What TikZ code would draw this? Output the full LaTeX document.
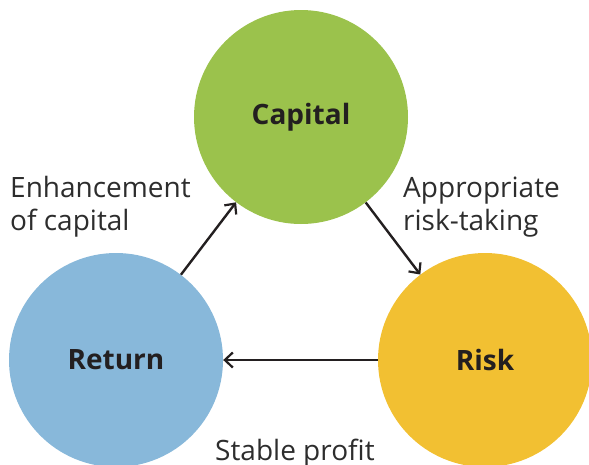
\documentclass[tikz,border=0pt]{standalone}
\usepackage{fontspec}
\setmainfont{Open Sans}
\usetikzlibrary{arrows.meta}
\definecolor{cgreen}{RGB}{155,194,76}
\definecolor{cblue}{RGB}{136,184,218}
\definecolor{cyellow}{RGB}{242,192,50}
\definecolor{cink}{RGB}{35,31,32}
\definecolor{ctext}{RGB}{45,45,45}
\begin{document}
\begin{tikzpicture}[x=1pt,y=-1pt,
  circ/.style={circle,draw=none,inner sep=0pt,minimum size=214pt,
    font=\fontsize{28}{30}\selectfont\bfseries,text=cink},
  arr/.style={draw=cink,line width=2.4pt,-{Straight Barb[length=8pt,width=15pt,line width=2.2pt]}},
  lbl/.style={anchor=base west,inner sep=0pt,text=ctext,font=\fontsize{28}{33}\selectfont,align=left}]
\useasboundingbox (0,0) rectangle (589,464);
\clip (0,0) rectangle (589,464);
\node[circ,fill=cgreen] (cap) at (301,117) {Capital};
\node[circ,fill=cblue] (ret) at (116,360) {Return};
\node[circ,fill=cyellow] (risk) at (485,360) {Risk};
\draw[arr] (ret) -- (cap);
\draw[arr] (cap) -- (risk);
\draw[arr] (risk) -- (ret);
\node[lbl] (l1) at (10,230) {Enhancement\\of capital};
\node[lbl] (l2) at (403,230) {Appropriate\\risk-taking};
\node[lbl] (l3) at (215,460) {Stable profit};
\end{tikzpicture}
\end{document}
